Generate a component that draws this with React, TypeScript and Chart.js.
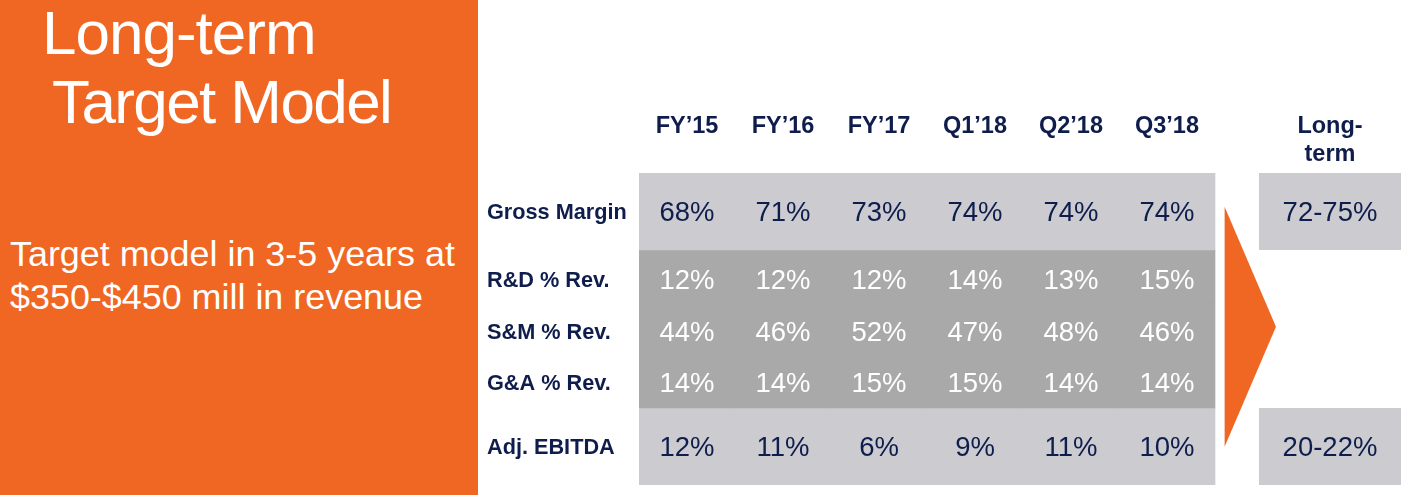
import React, { useEffect, useRef } from "react";
import { Chart, registerables } from "chart.js";

Chart.register(...registerables);

// ---------- data ----------
const PERIODS = ["FY’15", "FY’16", "FY’17", "Q1’18", "Q2’18", "Q3’18"];
const LONG_TERM_HEADER = ["Long-", "term"];
const METRICS = ["Gross Margin", "R&D % Rev.", "S&M % Rev.", "G&A % Rev.", "Adj. EBITDA"];
const GROSS_MARGIN = [68, 71, 73, 74, 74, 74];
const RND_PCT = [12, 12, 12, 14, 13, 15];
const SNM_PCT = [44, 46, 52, 47, 48, 46];
const GNA_PCT = [14, 14, 15, 15, 14, 14];
const ADJ_EBITDA = [12, 11, 6, 9, 11, 10];
const LONG_TERM = ["72-75%", "", "", "", "20-22%"];
const TITLE = ["Long-term", "Target Model"];
const SUBTITLE = ["Target model in 3-5 years at", "$350-$450 mill in revenue"];

const ROW_VALUES = [GROSS_MARGIN, RND_PCT, SNM_PCT, GNA_PCT, ADJ_EBITDA];

// ---------- layout (axis units) ----------
const ROW_EDGES = [0, 77, 130, 182, 235, 312];
const ROW_TEXT = [40.5, 108, 160.5, 211, 275.5];
const LONG_X = 6.698;
const LONG_WIDTH = 1.479;
const ARROW = { x0: 5.6, x1: 6.135, yTop: 33.7, yTip: 153.7, yBottom: 273.7 };

// ---------- styles ----------
const ORANGE = "#F06623";
const NAVY = "#0E1D4B";
const LIGHT = "#CBCBD0";
const DARK = "#A9A9A9";
const FONT = "'Liberation Sans', Arial, sans-serif";
const ROW_BG = [LIGHT, DARK, DARK, DARK, LIGHT];
const ROW_FG = [NAVY, "#FFFFFF", "#FFFFFF", "#FFFFFF", NAVY];

const zeroPadding = (axis: any) => {
  axis.paddingTop = 0;
  axis.paddingBottom = 0;
  axis.paddingLeft = 0;
  axis.paddingRight = 0;
};

const tablePlugin = {
  id: "tablePlugin",
  beforeDatasetsDraw(chart: any) {
    const { ctx, scales } = chart;
    const xs = scales.x;
    const ys = scales.y;
    ctx.save();
    ctx.fillStyle = ORANGE;
    ctx.beginPath();
    ctx.moveTo(xs.getPixelForValue(ARROW.x0), ys.getPixelForValue(ARROW.yTop));
    ctx.lineTo(xs.getPixelForValue(ARROW.x1), ys.getPixelForValue(ARROW.yTip));
    ctx.lineTo(xs.getPixelForValue(ARROW.x0), ys.getPixelForValue(ARROW.yBottom));
    ctx.closePath();
    ctx.fill();
    ctx.restore();
  },
  afterDatasetsDraw(chart: any) {
    const { ctx, scales } = chart;
    const ys = scales.y;
    ctx.save();
    ctx.font = `27.5px ${FONT}`;
    ctx.textAlign = "center";
    ctx.textBaseline = "middle";
    for (let r = 0; r < ROW_VALUES.length; r++) {
      const meta = chart.getDatasetMeta(r);
      ctx.fillStyle = ROW_FG[r];
      const y = ys.getPixelForValue(ROW_TEXT[r]);
      meta.data.forEach((bar: any, c: number) => {
        ctx.fillText(`${ROW_VALUES[r][c]}%`, bar.x, y);
      });
    }
    const ltMeta = chart.getDatasetMeta(ROW_VALUES.length);
    ctx.fillStyle = NAVY;
    const ltRows = LONG_TERM.map((t, i) => ({ t, i })).filter((o) => o.t);
    ltMeta.data.forEach((bar: any, k: number) => {
      const row = ltRows[k];
      ctx.fillText(row.t, bar.x, ys.getPixelForValue(ROW_TEXT[row.i]));
    });
    ctx.restore();
  },
};

function TableChart() {
  const ref = useRef<HTMLCanvasElement>(null);
  useEffect(() => {
    if (!ref.current) return;
    const rowDatasets = ROW_VALUES.map((vals, r) => ({
      label: METRICS[r],
      data: vals.map((_, c) => ({ x: c, y: [ROW_EDGES[r], ROW_EDGES[r + 1]] })),
      backgroundColor: ROW_BG[r],
      borderWidth: 0,
      barPercentage: 1,
      categoryPercentage: 1,
      grouped: false,
    }));
    const ltRows = LONG_TERM.map((t, i) => ({ t, i })).filter((o) => o.t);
    const longDataset = {
      label: "Long-term",
      data: ltRows.map((o) => ({ x: LONG_X, y: [ROW_EDGES[o.i], ROW_EDGES[o.i + 1]] })),
      backgroundColor: LIGHT,
      borderWidth: 0,
      barPercentage: LONG_WIDTH,
      categoryPercentage: 1,
      grouped: false,
    };
    const chart = new Chart(ref.current, {
      type: "bar",
      data: { datasets: [...rowDatasets, longDataset] as any },
      plugins: [tablePlugin],
      options: {
        animation: false,
        responsive: false,
        layout: { padding: { left: 9, right: 6, top: 0, bottom: 10 } },
        plugins: { legend: { display: false }, tooltip: { enabled: false } },
        scales: {
          x: {
            type: "linear",
            position: "top",
            min: -0.5,
            max: 7.4375,
            offset: false,
            grid: { display: false, drawTicks: false, offset: false },
            border: { display: false },
            afterBuildTicks: (axis: any) => {
              axis.ticks = [...PERIODS.map((_, i) => ({ value: i })), { value: LONG_X }];
            },
            afterFit: (axis: any) => {
              axis.height = 173;
              zeroPadding(axis);
            },
            ticks: {
              autoSkip: false,
              maxRotation: 0,
              minRotation: 0,
              padding: 4,
              color: NAVY,
              font: { family: FONT, size: 23.5, weight: "bold", lineHeight: 1.2 },
              callback: (_v: any, i: number) => (i < PERIODS.length ? [PERIODS[i], ""] : LONG_TERM_HEADER),
            },
          } as any,
          y: {
            type: "linear",
            reverse: true,
            min: 0,
            max: 312,
            grid: { display: false, drawTicks: false },
            border: { display: false },
            afterBuildTicks: (axis: any) => {
              axis.ticks = ROW_TEXT.map((v) => ({ value: v }));
            },
            afterFit: (axis: any) => {
              axis.width = 152;
              zeroPadding(axis);
            },
            ticks: {
              autoSkip: false,
              crossAlign: "far",
              color: NAVY,
              font: { family: FONT, size: 21.7, weight: "bold" },
              callback: (_v: any, i: number) => METRICS[i],
            },
          } as any,
        },
      },
    });
    return () => chart.destroy();
  }, []);
  return <canvas ref={ref} width={929} height={495} style={{ position: "absolute", left: 478, top: 0, width: 929, height: 495 }} />;
}

export default function App() {
  return (
    <div style={{ position: "fixed", left: 0, top: 0, width: 1407, height: 495, background: "#FFFFFF", overflow: "hidden", fontFamily: FONT }}>
      <div style={{ position: "absolute", left: 0, top: 0, width: 478, height: 495, background: ORANGE }} />
      <div style={{ position: "absolute", left: 42, top: -2, color: "#FFFFFF", fontSize: 62, lineHeight: "69px", whiteSpace: "nowrap", letterSpacing: -1 }}>
        {TITLE[0]}
      </div>
      <div style={{ position: "absolute", left: 52, top: 67, color: "#FFFFFF", fontSize: 62, lineHeight: "69px", whiteSpace: "nowrap", letterSpacing: -1.6 }}>
        {TITLE[1]}
      </div>
      <div style={{ position: "absolute", left: 10, top: 233, color: "#FFFFFF", fontSize: 35.9, lineHeight: "43px", whiteSpace: "nowrap" }}>
        {SUBTITLE.map((t) => (
          <div key={t}>{t}</div>
        ))}
      </div>
      <TableChart />
    </div>
  );
}
